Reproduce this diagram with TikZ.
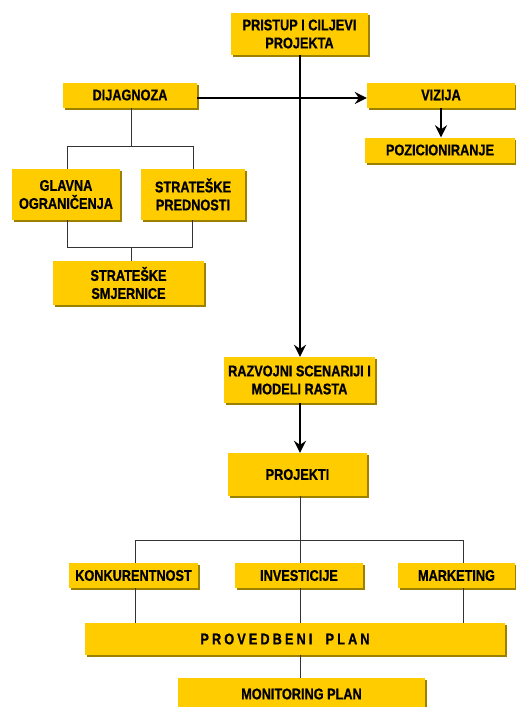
\documentclass[tikz,border=0pt]{standalone}
\usepackage{fontspec}
\setmainfont[FakeStretch=0.82, BoldFeatures={FakeBold=0.8}]{Liberation Sans}
\usetikzlibrary{arrows.meta,shadows}
\definecolor{boxfill}{HTML}{FFCC00}
\definecolor{boxshade}{HTML}{9C8000}
\begin{document}
\begin{tikzpicture}[x=1pt,y=-1pt]
\tikzstyle{block} = [rectangle, fill=boxfill, inner sep=0pt, align=center,
font=\fontsize{15.5}{18}\selectfont\bfseries,
drop shadow={shadow xshift=2pt, shadow yshift=-2pt, fill=boxshade, opacity=1}]
\tikzstyle{thickline} = [draw, line width=2.2pt, -{Stealth[length=12pt,width=12pt,inset=4pt]}]
\tikzstyle{thinline} = [draw, line width=1pt, black!80]

\useasboundingbox (0,0) rectangle (515,707);

% top
\node [block, minimum width=137, minimum height=42] (pristup) at (299.5,34) {PRISTUP I CILJEVI\\PROJEKTA};
% row 2
\node [block, minimum width=134, minimum height=25] (dijagnoza) at (130,95) {DIJAGNOZA};
\node [block, minimum width=148, minimum height=25] (vizija) at (441,95) {VIZIJA};
\node [block, minimum width=150, minimum height=25] (pozicioniranje) at (440,150) {POZICIONIRANJE};
% row 3
\node [block, minimum width=108, minimum height=51] (glavna) at (66,194.5) {GLAVNA\\OGRANIČENJA};
\node [block, minimum width=104, minimum height=51] (prednosti) at (193,194.5) {STRATEŠKE\\PREDNOSTI};
% row 4
\node [block, minimum width=151, minimum height=44] (smjernice) at (128.5,283) {STRATEŠKE\\SMJERNICE};
% row 5
\node [block, minimum width=151, minimum height=46] (razvojni) at (299.5,380) {RAZVOJNI SCENARIJI I\\MODELI RASTA};
\node [block, minimum width=139, minimum height=43] (projekti) at (297.5,474.5) {PROJEKTI};
% row 6
\node [block, minimum width=129, minimum height=25] (konkurentnost) at (133.5,575.5) {KONKURENTNOST};
\node [block, minimum width=128, minimum height=25] (investicije) at (299,575.5) {INVESTICIJE};
\node [block, minimum width=117, minimum height=25] (marketing) at (456.5,575.5) {MARKETING};
% row 7
\node [block, minimum width=420, minimum height=32] (provedbeni) at (295,639)
  {\addfontfeatures{LetterSpace=20}PROVEDBENI\ \ PLAN\hspace*{20pt}};
\node [block, minimum width=247, minimum height=32] (monitoring) at (301.5,694) {MONITORING PLAN};

% thick arrows
\path [thickline] (pristup.south -| 300,0) -- (razvojni.north -| 300,0);
\path [thickline] ([yshift=-3pt]dijagnoza.east) -- ([yshift=-3pt]vizija.west);
\path [thickline] (vizija.south -| 441,0) -- (pozicioniranje.north -| 441,0);
\path [thickline] (razvojni.south -| 300,0) -- (projekti.north -| 300,0);

% diagnosis tree
\coordinate (split) at (131,146);
\coordinate (join) at (131,247);
\path [thinline] (dijagnoza.south -| split) -- (split);
\path [thinline] (67,146) -- (193,146);
\path [thinline] (glavna.north -| 67,0) -- (67,146);
\path [thinline] (prednosti.north -| 193,0) -- (193,146);
\path [thinline] (glavna.south -| 67,0) -- (67,247) -- (192,247) -- (prednosti.south -| 192,0);
\path [thinline] (join) -- (smjernice.north -| join);

% project tree
\coordinate (fork) at (300,540);
\path [thinline] (projekti.south -| fork) -- (fork);
\path [thinline] (135,540) -- (463,540);
\path [thinline] (konkurentnost.north -| 135,0) -- (135,540);
\path [thinline] (investicije.north -| fork) -- (fork);
\path [thinline] (marketing.north -| 463,0) -- (463,540);
\path [thinline] (konkurentnost.south -| 135,0) -- (provedbeni.north -| 135,0);
\path [thinline] (investicije.south -| fork) -- (provedbeni.north -| fork);
\path [thinline] (marketing.south -| 463,0) -- (provedbeni.north -| 463,0);
\path [thinline] (provedbeni.south -| fork) -- (monitoring.north -| fork);

\end{tikzpicture}
\end{document}
